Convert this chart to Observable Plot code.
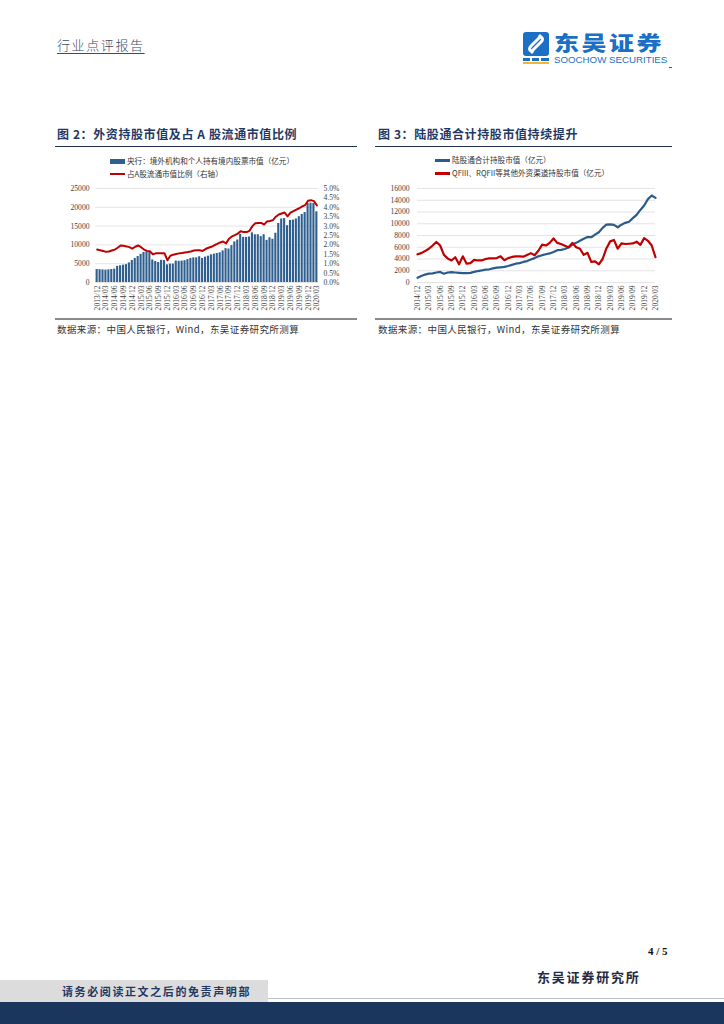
<!DOCTYPE html>
<html><head><meta charset="utf-8">
<script src="https://cdn.jsdelivr.net/npm/d3@7"></script>
<script src="https://cdn.jsdelivr.net/npm/@observablehq/plot@0.6"></script>
<style>
html,body{margin:0;padding:0;}
body{width:724px;height:1024px;position:relative;background:#fff;overflow:hidden;font-family:"Noto Sans CJK SC",sans-serif;}
.abs{position:absolute;white-space:nowrap;line-height:1;}
.title{font-weight:700;color:#1f3864;font-size:12px;letter-spacing:0.6px;}
.src{font-size:9.5px;color:#333;letter-spacing:0.4px;font-family:"Noto Sans CJK SC",serif;}
.leg{font-size:7.6px;color:#333;}
.chart{position:absolute;}
</style></head><body>

<!-- header -->
<div class="abs" style="left:57px;top:38px;font-size:13px;letter-spacing:1.6px;color:#3b4a66;font-weight:300;text-decoration:underline;text-underline-offset:3px;">行业点评报告</div>
<svg class="abs" style="left:522px;top:31px" width="30" height="34" viewBox="0 0 30 34">
  <rect x="1" y="1" width="26" height="24" rx="3" fill="#1b6fc4"/>
  <path d="M19 5 L9 15 Q6 18 9 20 L11 22" stroke="#fff" stroke-width="3" fill="none"/>
  <path d="M9 21 L19 11 Q22 8 19 6 L17 4" stroke="#fff" stroke-width="3" fill="none"/>
  <rect x="1" y="27" width="7" height="3" fill="#1b6fc4"/><rect x="10" y="27" width="7" height="3" fill="#1b6fc4"/><rect x="19" y="27" width="8" height="3" fill="#1b6fc4"/>
  <rect x="1" y="31" width="26" height="2" fill="#f2b632"/>
</svg>
<div class="abs" style="left:554px;top:33px;font-size:20px;font-weight:900;color:#1b6fc4;letter-spacing:2px;transform:scaleX(1.25);transform-origin:left top;">东吴证券</div>
<div class="abs" style="left:554px;top:56px;font-size:8.6px;color:#1b6fc4;font-family:'Liberation Sans',Arial,sans-serif;transform:scaleX(1.13);transform-origin:left top;">SOOCHOW SECURITIES</div>
<div class="abs" style="left:669px;top:67px;width:3px;height:1px;background:#555;"></div>

<!-- chart 2 frame -->
<div class="abs title" style="left:57px;top:128px;">图 2：外资持股市值及占 A 股流通市值比例</div>
<div class="abs" style="left:55px;top:146px;width:302px;height:1px;background:#1f2f4f;"></div>
<div class="abs" style="left:110px;top:159px;width:15px;height:5px;background:#2f5f8f;"></div>
<div class="abs leg" style="left:127px;top:157px;">央行：境外机构和个人持有境内股票市值（亿元）</div>
<div class="abs" style="left:110px;top:173px;width:15px;height:2px;background:#c00000;"></div>
<div class="abs leg" style="left:127px;top:170px;">占A股流通市值比例（右轴）</div>
<div id="c2" class="chart" style="left:55px;top:180px;"></div>
<div class="abs" style="left:55px;top:318px;width:302px;height:2px;background:#8a8a8a;"></div>
<div class="abs src" style="left:57px;top:325px;">数据来源：中国人民银行，Wind，东吴证券研究所测算</div>

<!-- chart 3 frame -->
<div class="abs title" style="left:378px;top:128px;">图 3：陆股通合计持股市值持续提升</div>
<div class="abs" style="left:375px;top:146px;width:297px;height:1px;background:#1f2f4f;"></div>
<div class="abs" style="left:435px;top:159px;width:15px;height:2.5px;background:#2b5b8c;"></div>
<div class="abs leg" style="left:452px;top:156px;">陆股通合计持股市值（亿元）</div>
<div class="abs" style="left:435px;top:172px;width:15px;height:2.5px;background:#c00000;"></div>
<div class="abs leg" style="left:452px;top:169px;">QFIII、RQFII等其他外资渠道持股市值（亿元）</div>
<div id="c3" class="chart" style="left:375px;top:180px;"></div>
<div class="abs" style="left:375px;top:318px;width:297px;height:2px;background:#8a8a8a;"></div>
<div class="abs src" style="left:378px;top:325px;">数据来源：中国人民银行，Wind，东吴证券研究所测算</div>

<!-- footer -->
<div class="abs" style="left:648px;top:946px;font-size:11px;font-weight:700;font-family:'Liberation Serif',serif;color:#111;">4 / 5</div>
<div class="abs" style="left:537px;top:970px;font-size:13px;font-weight:700;letter-spacing:1.8px;color:#1f2a44;">东吴证券研究所</div>
<div class="abs" style="left:0;top:980px;width:268px;height:23px;background:#dcdcdc;"></div>
<div class="abs" style="left:62px;top:986px;font-size:11px;font-weight:700;letter-spacing:1.6px;color:#1f3864;">请务必阅读正文之后的免责声明部</div>
<div class="abs" style="left:268px;top:998px;width:456px;height:1px;background:#b8c0cc;"></div>
<div class="abs" style="left:0;top:1002px;width:724px;height:22px;background:#1a365d;"></div>

<script>
// ---- Figure 2 data (monthly, 2013/12 - 2020/03) ----
const months2 = ["2013/12",
"2014/01","2014/02","2014/03","2014/04","2014/05","2014/06","2014/07","2014/08","2014/09","2014/10","2014/11","2014/12",
"2015/01","2015/02","2015/03","2015/04","2015/05","2015/06","2015/07","2015/08","2015/09","2015/10","2015/11","2015/12",
"2016/01","2016/02","2016/03","2016/04","2016/05","2016/06","2016/07","2016/08","2016/09","2016/10","2016/11","2016/12",
"2017/01","2017/02","2017/03","2017/04","2017/05","2017/06","2017/07","2017/08","2017/09","2017/10","2017/11","2017/12",
"2018/01","2018/02","2018/03","2018/04","2018/05","2018/06","2018/07","2018/08","2018/09","2018/10","2018/11","2018/12",
"2019/01","2019/02","2019/03","2019/04","2019/05","2019/06","2019/07","2019/08","2019/09","2019/10","2019/11","2019/12",
"2020/01","2020/02","2020/03"];
// 境外机构和个人持有境内股票市值（亿元）
const foreignHold = [3450,
3400,3350,3300,3350,3450,3550,4300,4450,4600,4750,5200,5850,
6400,6900,7500,8000,8100,7950,6000,5600,5300,5900,5850,4700,
4900,4900,5700,5650,5700,5800,6100,6400,6550,6550,6850,6400,
6750,7000,7350,7550,7700,7900,8400,9000,8900,9800,10800,11300,
12800,12000,12000,12100,13200,12700,12700,12200,12700,11200,11900,11500,
13100,15700,16900,17000,15100,16500,16600,16900,17500,18100,18600,21000,
21100,21000,18800];
// 占A股流通市值比例（%）
const ratio = [1.75,
1.72,1.68,1.63,1.65,1.70,1.75,1.85,1.97,1.95,1.92,1.88,1.80,
1.90,1.97,1.88,1.75,1.68,1.66,1.50,1.55,1.55,1.56,1.55,1.18,
1.42,1.48,1.52,1.55,1.57,1.60,1.62,1.65,1.70,1.72,1.72,1.68,
1.78,1.85,1.90,1.98,2.05,2.13,2.18,2.08,2.33,2.45,2.52,2.60,
2.73,2.68,2.68,2.75,3.00,3.15,3.17,3.17,3.08,3.25,3.27,3.32,
3.50,3.62,3.67,3.72,3.52,3.72,3.80,3.88,3.95,4.05,4.12,4.35,
4.38,4.33,4.10];
const leftTicks2 = [0,5000,10000,15000,20000,25000];
const rightTicks2 = [0,0.5,1.0,1.5,2.0,2.5,3.0,3.5,4.0,4.5,5.0];

// ---- Figure 3 data (monthly, 2014/12 - 2020/03) ----
const months3 = ["2014/12",
"2015/01","2015/02","2015/03","2015/04","2015/05","2015/06","2015/07","2015/08","2015/09","2015/10","2015/11","2015/12",
"2016/01","2016/02","2016/03","2016/04","2016/05","2016/06","2016/07","2016/08","2016/09","2016/10","2016/11","2016/12",
"2017/01","2017/02","2017/03","2017/04","2017/05","2017/06","2017/07","2017/08","2017/09","2017/10","2017/11","2017/12",
"2018/01","2018/02","2018/03","2018/04","2018/05","2018/06","2018/07","2018/08","2018/09","2018/10","2018/11","2018/12",
"2019/01","2019/02","2019/03","2019/04","2019/05","2019/06","2019/07","2019/08","2019/09","2019/10","2019/11","2019/12",
"2020/01","2020/02","2020/03"];
// 陆股通合计持股市值（亿元）
const northbound = [790,
1100,1350,1500,1550,1700,1800,1500,1700,1750,1700,1650,1600,
1580,1650,1800,1950,2050,2200,2250,2400,2520,2580,2650,2800,
3000,3200,3300,3500,3650,3900,4150,4450,4650,4800,4950,5200,
5500,5550,5700,5950,6450,6750,7100,7450,7750,7700,8150,8550,
9300,9850,9900,9800,9400,9850,10150,10350,10950,11500,12350,13100,
14200,14800,14400];
// QFII、RQFII等其他外资渠道持股市值（亿元）
const qfii = [4800,
5000,5350,5750,6300,6900,6300,4700,4100,3750,4300,3100,4450,
3200,3300,3850,3750,3750,4000,4100,4100,4150,4450,3800,4150,
4350,4450,4450,4400,4700,5000,4650,5400,6450,6300,6750,7500,
6750,6550,6250,6000,6750,6000,5750,4700,5050,3500,3600,3100,
4000,5800,7000,7250,5750,6650,6550,6600,6650,6950,6400,7550,
7100,6300,4300];
const yTicks3 = [0,2000,4000,6000,8000,10000,12000,14000,16000];

const tickStyle = {fontFamily:"'Liberation Serif','DejaVu Serif',serif", fontSize:"7.6px", color:"#404040", background:"transparent", overflow:"visible"};
const plain = d => String(d);

// Figure 2
const d2 = months2.map((m,i)=>({m, v: foreignHold[i], r: ratio[i]}));
const yMax2 = leftTicks2[leftTicks2.length-1], rMax2 = rightTicks2[rightTicks2.length-1];
const rToY = r => r / rMax2 * yMax2;
const p2 = Plot.plot({
  width: 290, height: 140, marginLeft: 40, marginRight: 27, marginTop: 8, marginBottom: 38,
  style: tickStyle,
  x: {type: "band", domain: months2, paddingInner: 0.28, paddingOuter: 0.2},
  y: {domain: [0, yMax2]},
  marks: [
    Plot.gridY(leftTicks2, {stroke: "#d9d9d9", strokeOpacity: 1, strokeWidth: 0.7}),
    Plot.barY(d2, {x: "m", y: "v", fill: "#2f5f8f"}),
    Plot.line(d2, {x: "m", y: d => rToY(d.r), stroke: "#c00000", strokeWidth: 2, curve: "linear"}),
    Plot.axisY(leftTicks2, {anchor: "left", tickSize: 0, tickPadding: 6, label: null, tickFormat: plain}),
    Plot.axisY(rightTicks2.map(rToY), {anchor: "right", tickSize: 0, tickPadding: 5, label: null,
      tickFormat: (d, i) => rightTicks2[i].toFixed(1) + "%"}),
    Plot.axisX(months2.filter((d,i) => i % 3 === 0), {tickSize: 0, tickRotate: -90, tickPadding: 3, label: null})
  ]
});
document.getElementById("c2").appendChild(p2);

// Figure 3
const d3data = months3.map((m,i)=>({m, nb: northbound[i], q: qfii[i]}));
const p3 = Plot.plot({
  width: 290, height: 140, marginLeft: 42, marginRight: 10, marginTop: 8, marginBottom: 38,
  style: tickStyle,
  x: {type: "point", domain: months3, padding: 0},
  y: {domain: [0, yTicks3[yTicks3.length-1]]},
  marks: [
    Plot.gridY(yTicks3, {stroke: "#d9d9d9", strokeOpacity: 1, strokeWidth: 0.7}),
    Plot.line(d3data, {x: "m", y: "nb", stroke: "#2b5b8c", strokeWidth: 2.2}),
    Plot.line(d3data, {x: "m", y: "q", stroke: "#c00000", strokeWidth: 2.2}),
    Plot.axisY(yTicks3, {anchor: "left", tickSize: 0, tickPadding: 8, label: null, tickFormat: plain}),
    Plot.axisX(months3.filter((d,i) => i % 3 === 0), {tickSize: 0, tickRotate: -90, tickPadding: 3, label: null})
  ]
});
document.getElementById("c3").appendChild(p3);
</script>
</body></html>
